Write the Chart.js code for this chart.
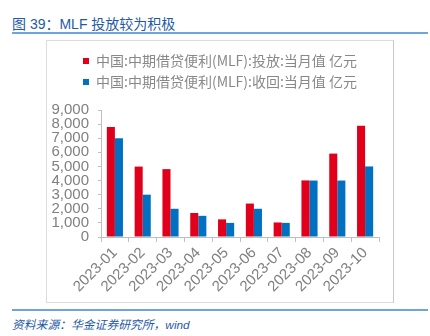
<!DOCTYPE html>
<html>
<head>
<meta charset="utf-8">
<script src="https://cdn.jsdelivr.net/npm/chart.js@4"></script>
<style>
  body { margin: 0; width: 430px; height: 336px; background: #fff; position: relative; overflow: hidden; }
  .title { position: absolute; left: 12px; top: 13px; font: 14px "Liberation Sans", "Noto Sans CJK SC", sans-serif; color: #1f5aa6; white-space: nowrap; }
  .rule { position: absolute; left: 12px; width: 416px; height: 2px; background: #6ea6dc; }
  .box { position: absolute; left: 46px; top: 40px; width: 348px; height: 263px; box-sizing: border-box; border: 1px solid #dcdcdc; border-right-color: #c8c8c8; }
  .source { position: absolute; left: 12px; top: 315px; font: italic 11.8px "Liberation Sans", "Noto Sans CJK SC", sans-serif; color: #1f5aa6; white-space: nowrap; }
</style>
</head>
<body>
<div class="title">图 39：MLF 投放较为积极</div>
<div class="rule" style="top:32px"></div>
<div class="box"><canvas id="myChart"></canvas></div>
<div class="rule" style="top:309px"></div>
<div class="source">资料来源：华金证券研究所，wind</div>
<script>
const months = ["2023-01", "2023-02", "2023-03", "2023-04", "2023-05",
  "2023-06", "2023-07", "2023-08", "2023-09", "2023-10"];
const injected = [7790, 4990, 4810, 1700, 1250, 2370, 1030, 4010, 5910, 7890];
const matured = [7000, 3000, 2000, 1500, 1000, 2000, 1000, 4000, 4000, 5000];
const yTicks = [0, 1000, 2000, 3000, 4000, 5000, 6000, 7000, 8000, 9000];

const gray = "#808080";
const axisGray = "#bfbfbf";

const ctx = document.getElementById("myChart");
ctx.width = 346;
ctx.height = 261;

new Chart(ctx, {
  type: "bar",
  data: {
    labels: months,
    datasets: [
      {
        label: "中国:中期借贷便利(MLF):投放:当月值 亿元",
        data: injected,
        backgroundColor: "#e0001b",
      },
      {
        label: "中国:中期借贷便利(MLF):收回:当月值 亿元",
        data: matured,
        backgroundColor: "#0070c0",
      },
    ],
  },
  options: {
    responsive: false,
    animation: false,
    devicePixelRatio: 1,
    layout: { padding: { top: 6, left: 0, right: 0, bottom: 0 } },
    datasets: {
      bar: { categoryPercentage: 0.58, barPercentage: 1 },
    },
    plugins: {
      legend: {
        position: "top",
        labels: {
          boxWidth: 6,
          boxHeight: 6,
          padding: 7,
          color: "#888888",
          font: { family: "'Noto Sans CJK SC', 'Liberation Sans', sans-serif", size: 14 },
        },
      },
      subtitle: {
        display: true,
        text: "",
        weight: 500,
        padding: 0,
        font: { size: 11, lineHeight: 1 },
      },
      tooltip: { enabled: false },
    },
    scales: {
      x: {
        offset: true,
        grid: { drawOnChartArea: false, offset: true, tickLength: 5, color: axisGray },
        border: { color: axisGray },
        ticks: {
          color: gray,
          autoSkip: false,
          minRotation: 45,
          maxRotation: 45,
          padding: 2,
          font: { family: "'Liberation Sans', Arial, sans-serif", size: 15 },
        },
        afterFit: (s) => { s.height = 65; },
      },
      y: {
        min: 0,
        max: 9000,
        afterBuildTicks: (s) => { s.ticks = yTicks.map((v) => ({ value: v })); },
        grid: { drawOnChartArea: false, tickLength: 3, color: axisGray },
        border: { display: true, color: axisGray },
        ticks: {
          color: gray,
          autoSkip: false,
          padding: 9,
          font: { family: "'Liberation Sans', Arial, sans-serif", size: 15 },
          callback: (v) => v.toLocaleString("en-US"),
        },
        afterFit: (s) => { s.width = 54; },
      },
      yR: {
        position: "right",
        display: true,
        grid: { display: false, drawTicks: false },
        border: { display: false },
        ticks: { display: false },
        afterFit: (s) => { s.width = 14; },
      },
    },
  },
});
</script>
</body>
</html>
